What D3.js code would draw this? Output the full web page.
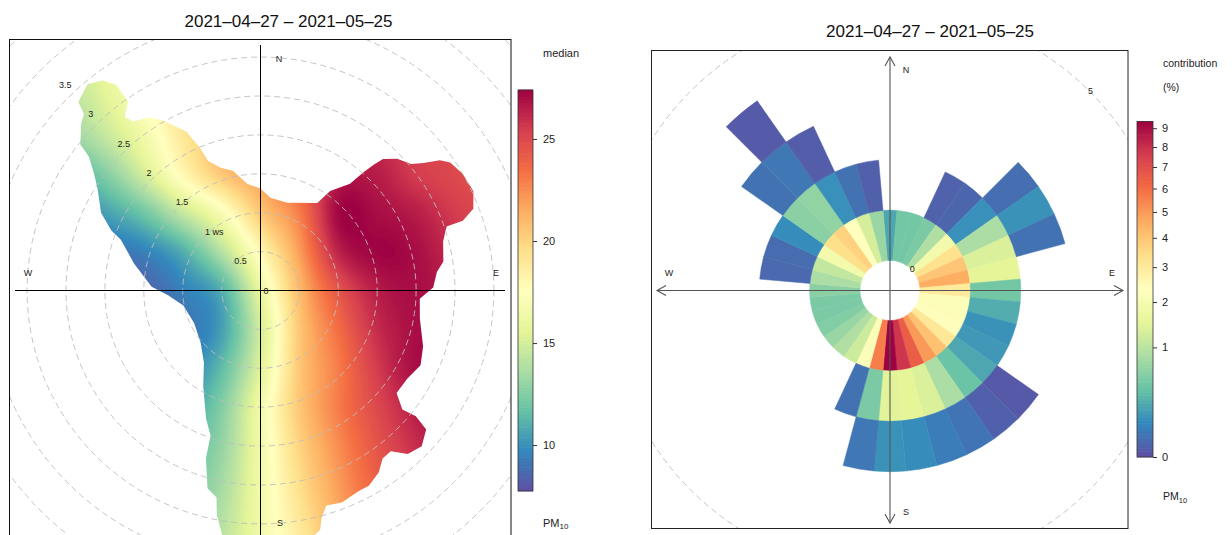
<!DOCTYPE html>
<html>
<head>
<meta charset="utf-8">
<script src="https://cdn.jsdelivr.net/npm/d3@7"></script>
<style>
  body { margin: 0; background: #fff; }
  svg { font-family: "Liberation Sans", Arial, sans-serif; }
</style>
</head>
<body>
<svg id="chart" width="1232" height="535"></svg>
<script>
const title = "2021–04–27 – 2021–05–25";

// ---- left panel: polar plot of median PM10 (ws / wd surface) ----
const gridU = [-3, -2.5, -2, -1.5, -1, -0.5, 0, 0.5, 1, 1.5, 2, 2.5, 3];
const gridV = [3.5, 3, 2.5, 2, 1.5, 1, 0.5, 0, -0.5, -1, -1.5, -2, -2.5, -3, -3.5];
const medianGrid = [
  [14, 15, 16.5, 18, 19.5, 21, 22, 23, 24, 24.5, 24.5, 24.5, 24.5],
  [13.5, 14.5, 16, 17.5, 19.5, 21, 22.5, 23.5, 24.5, 25, 25, 24.5, 24.5],
  [13, 14, 15.5, 17.5, 19.5, 21, 22.5, 24, 25, 25.5, 25.5, 25, 24.5],
  [12, 13, 14.5, 16.5, 19, 21, 22.5, 24.5, 26, 26, 25.5, 25, 24.5],
  [10, 11, 12.5, 15, 18, 20.5, 22, 24, 26.5, 26.5, 25.5, 25, 24.5],
  [9, 9.5, 10.5, 12, 14.5, 17, 20.5, 23, 27.2, 27, 26.5, 25.5, 25],
  [8, 8.5, 9, 9.5, 11, 14, 18, 22, 26.3, 27.3, 27, 26, 25.5],
  [8, 8, 8.5, 8.5, 9.5, 11, 16, 21, 24.5, 26.5, 27, 26.5, 26],
  [8, 8, 8.5, 8.5, 9, 10.5, 15, 20.5, 23.5, 26, 27, 27, 26.5],
  [9, 9, 9, 9, 9.5, 11.5, 15.5, 20.5, 23, 25.5, 27, 27, 27],
  [10, 10, 10, 10, 10.5, 12.5, 16.5, 20.5, 23, 25, 26.5, 27, 27],
  [11, 11, 11, 11, 11.5, 13, 16.5, 20, 22.5, 24.5, 26, 27, 27],
  [11.5, 11.5, 11.5, 11.5, 12, 13.5, 16.5, 19.5, 22, 24, 25.5, 26.5, 27],
  [12, 12, 12, 12, 12.5, 14, 16.5, 19, 21.5, 23.5, 25, 26, 26.5],
  [12.5, 12.5, 12.5, 12.5, 13, 14.5, 16.5, 18.5, 21, 23, 24.5, 25.5, 26]
];
// outline of the area covered by data (wind direction in degrees, wind speed)
const maskDir = [0, 6, 17, 33, 35, 40, 41, 42, 43, 46, 50, 52, 54, 56, 60, 65, 69, 71, 71, 75, 81, 84, 89,
  93, 100, 109, 115, 121, 127, 130, 129, 130, 134, 138, 141, 144, 147, 151, 154, 159, 163, 165, 166,
  171, 180, 188, 191, 192, 195, 198, 199, 203, 211, 218, 229, 244, 259, 267, 272, 282, 290, 292, 296,
  302, 305, 308, 309, 313, 315, 316, 320, 323, 325, 325, 322, 323, 327, 330, 332, 335, 337, 338, 342,
  347, 350, 353];
const maskWs = [1.31, 1.2, 1.18, 1.34, 1.56, 1.79, 2.0, 2.18, 2.31, 2.44, 2.53, 2.66, 2.85, 2.94, 3.0, 3.02, 2.93, 2.75, 2.53, 2.43, 2.38, 2.28, 2.22,
  2.05, 2.08, 2.21, 2.27, 2.2, 2.19, 2.38, 2.57, 2.78, 2.88, 2.83, 2.66, 2.67, 2.79, 2.87, 2.87, 2.92, 2.89, 3.03, 3.17,
  3.35, 3.33, 3.3, 2.94, 2.72, 2.63, 2.27, 1.97, 1.79, 1.43, 1.18, 1.02, 0.95, 1.01, 1.19, 1.4, 1.66, 1.91, 2.07, 2.28,
  2.47, 2.61, 2.8, 2.98, 3.15, 3.21, 3.37, 3.46, 3.38, 3.23, 2.97, 2.83, 2.72, 2.65, 2.53, 2.41, 2.25, 1.99, 1.8, 1.66,
  1.58, 1.47, 1.38];
const wsCircles = [0.5, 1, 1.5, 2, 2.5, 3, 3.5, 4, 4.5];
const wsLabelVals = [0, 0.5, 1, 1.5, 2, 2.5, 3, 3.5];
const wsLabelText = ["0", "0.5", "1 ws", "1.5", "2", "2.5", "3", "3.5"];
const medianTicks = [10, 15, 20, 25];
const medianDomain = [7.75, 27.4];

// ---- right panel: contribution (%) by wind speed ring and direction ----
const dirs = [0, 10, 20, 30, 40, 50, 60, 70, 80, 90, 100, 110, 120, 130, 140, 150, 160, 170,
  180, 190, 200, 210, 220, 230, 240, 250, 260, 270, 280, 290, 300, 310, 320, 330, 340, 350];
const contribWs1 = [0.22, 0.45, 0.45, 0.5, 0.9, 1.9, 3.3, 4.0, 4.6, 3.0, 2.2, 2.2, 2.4, 3.1, 4.1, 5.0, 6.5, 7.8,
  9.37, 5.6, 2.2, 1.2, 0.9, 0.7, 0.55, 0.5, 0.5, 0.6, 0.85, 1.1, 1.9, 3.4, 3.7, 2.3, 1.3, 0.7];
const contribWs2 = [null, null, null, 0.01, 0.015, 0.12, 0.85, 1.35, 1.5, 0.45, 0.25, 0.13, 0.15, 0.22, 0.4, 0.85, 1.35, 1.5,
  1.45, 0.5, 0.035, null, null, null, null, null, null, null, 0.02, 0.025, 0.11, 0.6, 0.65, 0.12, 0.035, 0.008];
const contribWs3 = [null, null, null, null, null, 0.03, 0.13, 0.035, null, null, null, null, null, 0.003, 0.008, 0.04, 0.06, 0.11,
  0.13, 0.045, null, null, null, null, null, null, null, null, null, null, null, 0.035, 0.045, 0.006, null, null];
const contribWs4 = [null, null, null, null, null, null, null, null, null, null, null, null, null, null, null, null, null, null,
  null, null, null, null, null, null, null, null, null, null, null, null, null, null, 0.004, null, null, null];
const contribTicks = [0, 1, 2, 3, 4, 5, 6, 7, 8, 9];
const contribMax = 9.37;

const spectral = ["#5e4fa2", "#3288bd", "#66c2a5", "#abdda4", "#e6f598", "#ffffbf",
  "#fee08b", "#fdae61", "#f46d43", "#d53e4f", "#9e0142"];

const svg = d3.select('#chart');
const defs = svg.append('defs');

// palette on [0,1]
const palette = d3.scaleLinear()
  .domain(spectral.map((c, i) => i / (spectral.length - 1)))
  .range(spectral)
  .interpolate(d3.interpolateRgb)
  .clamp(true);

// =========================== LEFT ===========================
const cxL = 260.5, cyL = 290.5, pxPerWs = 77.8;
const rL = d3.scaleLinear().domain([0, 1]).range([0, pxPerWs]);
const xL = d3.scaleLinear().domain([0, 1]).range([cxL, cxL + pxPerWs]);
const yL = d3.scaleLinear().domain([0, 1]).range([cyL, cyL - pxPerWs]);
const medianPos = d3.scaleLinear().domain(medianDomain).range([0, 1]);
const colorL = v => palette(medianPos(v));

defs.append('clipPath').attr('id', 'frameL')
  .append('rect').attr('x', 10).attr('y', 40).attr('width', 501).attr('height', 500);

const maskPts = maskDir.map((d, i) => ({ dir: d, ws: maskWs[i] }));
const maskLine = d3.lineRadial()
  .angle(d => d.dir * Math.PI / 180)
  .radius(d => rL(d.ws))
  .curve(d3.curveLinearClosed);
defs.append('clipPath').attr('id', 'maskL')
  .append('path')
  .attr('transform', `translate(${cxL},${cyL})`)
  .attr('d', maskLine(maskPts));

// smooth surface through the grid (Catmull-Rom both ways)
const cr = (p0, p1, p2, p3, t) =>
  p1 + 0.5 * t * (p2 - p0 + t * (2 * p0 - 5 * p1 + 4 * p2 - p3 + t * (3 * (p1 - p2) + p3 - p0)));
const nI = gridU.length, nJ = gridV.length;
const G = (j, i) => medianGrid[Math.max(0, Math.min(nJ - 1, j))][Math.max(0, Math.min(nI - 1, i))];
function surface(u, v) {
  let fx = (u - gridU[0]) / (gridU[1] - gridU[0]);
  let fy = (v - gridV[0]) / (gridV[1] - gridV[0]);
  fx = Math.max(0, Math.min(nI - 1.001, fx));
  fy = Math.max(0, Math.min(nJ - 1.001, fy));
  const ix = Math.floor(fx), iy = Math.floor(fy), tx = fx - ix, ty = fy - iy;
  const r = [-1, 0, 1, 2].map(dj =>
    cr(G(iy + dj, ix - 1), G(iy + dj, ix), G(iy + dj, ix + 1), G(iy + dj, ix + 2), tx));
  return cr(r[0], r[1], r[2], r[3], ty);
}

const imgX = 10, imgY = 40, imgW = 501, imgH = 496;
const canvas = document.createElement('canvas');
canvas.width = imgW; canvas.height = imgH;
const ctx = canvas.getContext('2d');
const imgData = ctx.createImageData(imgW, imgH);
const lut = d3.range(256).map(k => d3.rgb(palette(k / 255)));
for (let py = 0; py < imgH; py++) {
  const v = yL.invert(imgY + py + 0.5);
  for (let px = 0; px < imgW; px++) {
    const u = xL.invert(imgX + px + 0.5);
    let val = surface(u, v);
    val = Math.max(medianDomain[0], Math.min(medianDomain[1], val));
    const c = lut[Math.round(medianPos(val) * 255)];
    const o = (py * imgW + px) * 4;
    imgData.data[o] = c.r; imgData.data[o + 1] = c.g; imgData.data[o + 2] = c.b; imgData.data[o + 3] = 255;
  }
}
ctx.putImageData(imgData, 0, 0);

const left = svg.append('g');
left.append('g').attr('clip-path', 'url(#frameL)')
  .append('image')
  .attr('x', imgX).attr('y', imgY).attr('width', imgW).attr('height', imgH)
  .attr('preserveAspectRatio', 'none')
  .attr('href', canvas.toDataURL())
  .attr('clip-path', 'url(#maskL)');

// dashed speed circles
left.append('g').attr('clip-path', 'url(#frameL)')
  .selectAll('circle').data(wsCircles).enter().append('circle')
  .attr('cx', cxL).attr('cy', cyL).attr('r', d => rL(d))
  .attr('fill', 'none').attr('stroke', '#bdbdbd').attr('stroke-width', 0.9)
  .attr('stroke-dasharray', '6,4');

// axes cross
left.append('line').attr('x1', cxL).attr('x2', cxL).attr('y1', 45).attr('y2', 540)
  .attr('stroke', '#000').attr('stroke-width', 1);
left.append('line').attr('x1', 15).attr('x2', 505).attr('y1', cyL).attr('y2', cyL)
  .attr('stroke', '#000').attr('stroke-width', 1);

// ws labels along the NW diagonal
const labAng = -44.8 * Math.PI / 180, labK = 1.066;
left.selectAll('text.ws').data(wsLabelVals).enter().append('text')
  .attr('class', 'ws')
  .attr('x', d => cxL + 3 + Math.sin(labAng) * labK * rL(d))
  .attr('y', d => cyL - Math.cos(labAng) * labK * rL(d))
  .attr('dy', '0.35em')
  .attr('font-size', 9).attr('fill', '#222')
  .text((d, i) => wsLabelText[i]);

const compassL = [["N", 279, 59], ["E", 496, 273], ["S", 280, 523], ["W", 28, 273]];
left.selectAll('text.cmp').data(compassL).enter().append('text')
  .attr('class', 'cmp').attr('x', d => d[1]).attr('y', d => d[2]).attr('dy', '0.35em')
  .attr('text-anchor', 'middle').attr('font-size', 9).attr('fill', '#222').text(d => d[0]);

left.append('rect').attr('x', 9.5).attr('y', 39.5).attr('width', 501.5).attr('height', 502)
  .attr('fill', 'none').attr('stroke', '#111').attr('stroke-width', 1);

left.append('text').attr('x', 288.5).attr('y', 27).attr('text-anchor', 'middle')
  .attr('font-size', 17).attr('fill', '#111').text(title);

// colour key (left)
const keyL = d3.scaleLinear().domain(medianDomain).range([491, 90]);
const nKey = 120;
const keyLVals = d3.range(nKey).map(k => medianDomain[0] + (k + 0.5) * (medianDomain[1] - medianDomain[0]) / nKey);
const stepL = (keyL(medianDomain[0]) - keyL(medianDomain[1])) / nKey;
left.selectAll('rect.key').data(keyLVals).enter().append('rect')
  .attr('class', 'key').attr('x', 518).attr('width', 15)
  .attr('y', d => keyL(d) - stepL / 2 - 0.3).attr('height', stepL + 0.6)
  .attr('fill', d => colorL(d));
left.append('rect').attr('x', 518).attr('y', 90).attr('width', 15).attr('height', 401)
  .attr('fill', 'none').attr('stroke', '#333').attr('stroke-width', 0.8);
const axL = left.append('g').attr('transform', 'translate(533,0)')
  .call(d3.axisRight(keyL).tickValues(medianTicks).tickSize(4).tickPadding(6));
axL.select('.domain').remove();
axL.selectAll('text').attr('font-size', 11).attr('fill', '#222')
  .attr('font-family', '"Liberation Sans", Arial, sans-serif');
axL.selectAll('line').attr('stroke', '#333');
left.append('text').attr('x', 543).attr('y', 53).attr('dy', '0.35em')
  .attr('font-size', 11).attr('fill', '#222').text('median');
const pmL = left.append('text').attr('x', 543).attr('y', 523).attr('dy', '0.35em')
  .attr('font-size', 11).attr('fill', '#222');
pmL.append('tspan').text('PM');
pmL.append('tspan').attr('dy', '2.5').attr('font-size', 8).text('10');

// =========================== RIGHT ===========================
const cxR = 890, cyR = 290.5;
const rR = d3.scaleLinear().domain([0, 5]).range([30, 282]);
const contribPos = d3.scaleSqrt().domain([0, contribMax]).range([0, 1]);
const colorR = v => palette(contribPos(v));

defs.append('clipPath').attr('id', 'frameR')
  .append('rect').attr('x', 652).attr('y', 51).attr('width', 476).attr('height', 477);

const right = svg.append('g');
right.append('g').attr('clip-path', 'url(#frameR)')
  .append('circle').attr('cx', cxR).attr('cy', cyR).attr('r', rR(5))
  .attr('fill', 'none').attr('stroke', '#bdbdbd').attr('stroke-width', 0.9)
  .attr('stroke-dasharray', '6,4');

const rings = [contribWs1, contribWs2, contribWs3, contribWs4];
const cells = [];
rings.forEach((ring, k) => ring.forEach((v, i) => {
  if (v !== null) cells.push({ ws0: k, ws1: k + 1, dir: dirs[i], value: v });
}));
const arc = d3.arc()
  .innerRadius(d => rR(d.ws0))
  .outerRadius(d => rR(d.ws1))
  .startAngle(d => (d.dir - 5) * Math.PI / 180)
  .endAngle(d => (d.dir + 5) * Math.PI / 180);
right.append('g').attr('transform', `translate(${cxR},${cyR})`)
  .selectAll('path').data(cells).enter().append('path')
  .attr('d', arc)
  .attr('fill', d => colorR(d.value))
  .attr('stroke', d => colorR(d.value)).attr('stroke-width', 0.5);

// axes with arrow heads
const axisCol = '#555';
const arrows = [[cxR, 523, cxR, 57], [657, cyR, 1123, cyR]];
arrows.forEach(a => {
  right.append('line').attr('x1', a[0]).attr('y1', a[1]).attr('x2', a[2]).attr('y2', a[3])
    .attr('stroke', axisCol).attr('stroke-width', 1.1);
  [[a[0], a[1], a[2], a[3]], [a[2], a[3], a[0], a[1]]].forEach(p => {
    const ang = Math.atan2(p[3] - p[1], p[2] - p[0]);
    const L = 9, Wd = 5;
    const bx = p[2] - L * Math.cos(ang), by = p[3] - L * Math.sin(ang);
    const nx = -Math.sin(ang) * Wd, ny = Math.cos(ang) * Wd;
    right.append('path')
      .attr('d', `M${bx + nx},${by + ny}L${p[2]},${p[3]}L${bx - nx},${by - ny}`)
      .attr('fill', 'none').attr('stroke', axisCol).attr('stroke-width', 1.1);
  });
});

const compassR = [["N", 906, 70], ["E", 1112, 273], ["S", 906, 512], ["W", 669, 273]];
right.selectAll('text.cmp').data(compassR).enter().append('text')
  .attr('class', 'cmp').attr('x', d => d[1]).attr('y', d => d[2]).attr('dy', '0.35em')
  .attr('text-anchor', 'middle').attr('font-size', 9).attr('fill', '#222').text(d => d[0]);

const ringLabels = [0, 5];
right.selectAll('text.rl').data(ringLabels).enter().append('text')
  .attr('class', 'rl')
  .attr('x', d => cxR + Math.SQRT1_2 * rR(d) + 1)
  .attr('y', d => cyR - Math.SQRT1_2 * rR(d))
  .attr('dy', '0.35em').attr('text-anchor', 'middle')
  .attr('font-size', 9).attr('fill', '#222').text(d => d);

right.append('rect').attr('x', 651.5).attr('y', 50.5).attr('width', 476.5).attr('height', 478)
  .attr('fill', 'none').attr('stroke', '#222').attr('stroke-width', 1);

right.append('text').attr('x', 930).attr('y', 37).attr('text-anchor', 'middle')
  .attr('font-size', 17).attr('fill', '#111').text(title);

// colour key (right), square-root scale
const keyR = d3.scaleSqrt().domain([0, contribMax]).range([457, 121.5]);
const keyRFrac = d3.range(nKey).map(k => (k + 0.5) / nKey);
const stepR = (457 - 121.5) / nKey;
right.selectAll('rect.key').data(keyRFrac).enter().append('rect')
  .attr('class', 'key').attr('x', 1137).attr('width', 16)
  .attr('y', d => 457 - d * (457 - 121.5) - stepR / 2 - 0.3).attr('height', stepR + 0.6)
  .attr('fill', d => palette(d));
right.append('rect').attr('x', 1137).attr('y', 121.5).attr('width', 16).attr('height', 335.5)
  .attr('fill', 'none').attr('stroke', '#333').attr('stroke-width', 0.8);
const axR = right.append('g').attr('transform', 'translate(1153,0)')
  .call(d3.axisRight(keyR).tickValues(contribTicks).tickSize(4).tickPadding(5));
axR.select('.domain').remove();
axR.selectAll('text').attr('font-size', 11).attr('fill', '#222')
  .attr('font-family', '"Liberation Sans", Arial, sans-serif');
axR.selectAll('line').attr('stroke', '#333');
right.append('text').attr('x', 1163).attr('y', 63).attr('dy', '0.35em')
  .attr('font-size', 10.5).attr('fill', '#222').text('contribution');
right.append('text').attr('x', 1163).attr('y', 87).attr('dy', '0.35em')
  .attr('font-size', 10.5).attr('fill', '#222').text('(%)');
const pmR = right.append('text').attr('x', 1163).attr('y', 496).attr('dy', '0.35em')
  .attr('font-size', 10.5).attr('fill', '#222');
pmR.append('tspan').text('PM');
pmR.append('tspan').attr('dy', '3').attr('font-size', 7.5).text('10');
</script>
</body>
</html>
